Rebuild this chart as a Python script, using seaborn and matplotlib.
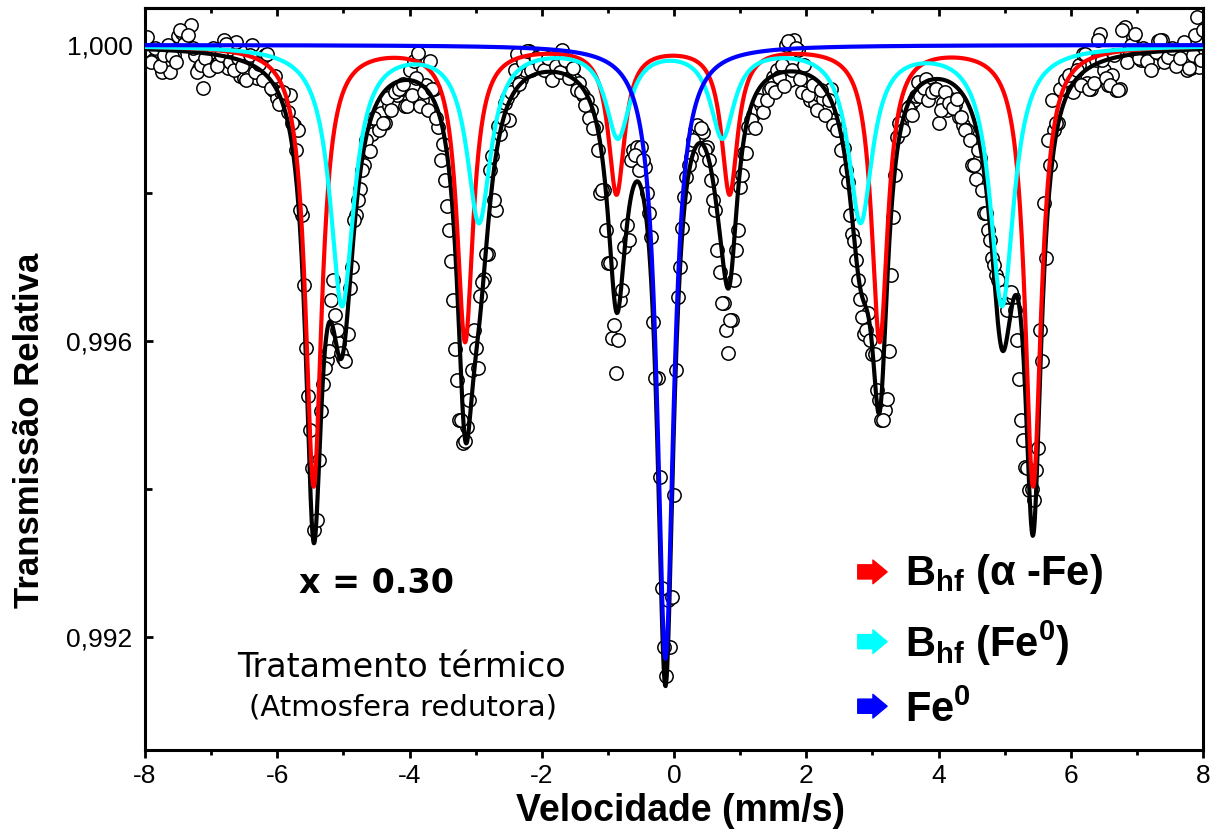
import numpy as np
import pandas as pd
import matplotlib
matplotlib.use("Agg")
import matplotlib.pyplot as plt
import seaborn as sns
from matplotlib.ticker import MultipleLocator, FuncFormatter
from matplotlib.patches import FancyArrowPatch

# measured spectrum (relative transmission), two interleaved channel sets
# set A: channels at -8, -7.9375, ... 8 mm/s
transmission_a = [
    1.00007, 0.99986, 0.99980, 0.99993, 0.99964, 0.99977, 0.99964, 0.99986, 1.00012, 1.00016,
    1.00004, 1.00027, 0.99986, 0.99969, 0.99942, 0.99980, 0.99991, 0.99972, 0.99977, 1.00007,
    0.99969, 0.99991, 1.00004, 0.99958, 0.99955,
    0.99966, 1.00000, 0.99955, 0.99980, 0.99986, 0.99950, 0.99939, 0.99928, 0.99936, 0.99931,
    0.99932, 0.99892, 0.99885, 0.99770, 0.99591, 0.99480, 0.99345, 0.99439, 0.99542, 0.99574,
    0.99655, 0.99635, 0.99597, 0.99577,
    0.99609, 0.99700, 0.99770, 0.99805, 0.99838, 0.99857, 0.99880, 0.99899, 0.99908, 0.99895,
    0.99918, 0.99922, 0.99932, 0.99941, 0.99918, 0.99966, 0.99978, 0.99989, 0.99926, 0.99946,
    0.99978, 0.99941, 0.99889, 0.99866,
    0.99782, 0.99708, 0.99589, 0.99493, 0.99462, 0.99484, 0.99561, 0.99591, 0.99661, 0.99684,
    0.99718, 0.99850, 0.99777, 0.99880, 0.99922, 0.99899, 0.99941, 0.99988, 0.99954, 0.99966,
    0.99992, 0.99977, 0.99973, 0.99986,
    0.99977, 0.99962, 0.99980, 0.99986, 0.99993, 0.99970, 0.99959, 0.99953, 0.99949, 0.99932,
    0.99926, 0.99912, 0.99889, 0.99800, 0.99804, 0.99705, 0.99604, 0.99557, 0.99655, 0.99727,
    0.99736, 0.99858, 0.99862, 0.99862,
    0.99835, 0.99773, 0.99626, 0.99550, 0.99266, 0.99147, 0.99186, 0.99392, 0.99659, 0.99753,
    0.99822, 0.99849, 0.99885, 0.99878, 0.99882, 0.99862, 0.99818, 0.99777, 0.99693, 0.99651,
    0.99584, 0.99628, 0.99723, 0.99808,
    0.99854, 0.99889, 0.99905, 0.99912, 0.99919, 0.99926, 0.99939, 0.99957, 0.99966, 0.99973,
    1.00000, 0.99953, 1.00007, 0.99993, 0.99936, 0.99953, 0.99926, 0.99922, 0.99932, 0.99927,
    0.99912, 0.99941, 0.99899, 0.99885,
    0.99861, 0.99815, 0.99745, 0.99709, 0.99657, 0.99609, 0.99638, 0.99582, 0.99534, 0.99493,
    0.99507, 0.99586, 0.99768, 0.99876, 0.99895, 0.99905, 0.99918, 0.99926, 0.99950, 0.99931,
    0.99954, 0.99946, 0.99941, 0.99895,
    0.99922, 0.99912, 0.99927, 0.99919, 0.99903, 0.99892, 0.99885, 0.99838, 0.99819, 0.99847,
    0.99773, 0.99750, 0.99712, 0.99689, 0.99673, 0.99655, 0.99659, 0.99659, 0.99601, 0.99493,
    0.99430, 0.99399, 0.99385, 0.99455,
    0.99573, 0.99712, 0.99838, 0.99885, 0.99895, 0.99941, 0.99941, 0.99959, 0.99953, 0.99973,
    0.99988, 0.99949, 0.99941, 0.99980, 1.00015, 0.99966, 0.99946, 0.99959, 0.99939, 0.99941,
    1.00024, 0.99993, 1.00011, 0.99986,
    0.99980, 0.99980, 0.99993, 0.99973, 1.00005, 1.00007, 0.99986, 0.99984, 0.99978, 0.99982,
    0.99993, 0.99966, 0.99969, 1.00014, 0.99970, 1.00020,
]
# set B: channels half a step further, -7.96875 ... 7.96875 mm/s
transmission_b = [
    1.00011, 0.99977, 0.99996, 0.99972, 0.99986, 1.00000, 0.99985, 0.99977, 1.00020, 1.00001,
    1.00014, 0.99996, 0.99964, 0.99973, 0.99982, 0.99966, 0.99996, 0.99972, 0.99986, 1.00001,
    0.99977, 0.99966, 0.99982, 0.99972, 0.99953,
    0.99986, 0.99964, 0.99974, 0.99953, 0.99988, 0.99942, 0.99958, 0.99920, 0.99936, 0.99909,
    0.99895, 0.99858, 0.99777, 0.99676, 0.99526, 0.99428, 0.99358, 0.99505, 0.99563, 0.99586,
    0.99682, 0.99615, 0.99584, 0.99573,
    0.99672, 0.99764, 0.99791, 0.99831, 0.99872, 0.99857, 0.99901, 0.99885, 0.99895, 0.99928,
    0.99912, 0.99936, 0.99941, 0.99947, 0.99918, 0.99932, 0.99955, 0.99918, 0.99936, 0.99912,
    0.99941, 0.99901, 0.99845, 0.99818,
    0.99750, 0.99655, 0.99547, 0.99493, 0.99465, 0.99520, 0.99615, 0.99563, 0.99680, 0.99718,
    0.99831, 0.99791, 0.99891, 0.99901, 0.99928, 0.99936, 0.99966, 0.99947, 0.99977, 0.99992,
    0.99966, 0.99982, 0.99973, 0.99966,
    0.99982, 0.99953, 0.99972, 0.99964, 0.99980, 0.99955, 0.99969, 0.99939, 0.99936, 0.99919,
    0.99901, 0.99888, 0.99858, 0.99804, 0.99750, 0.99705, 0.99622, 0.99601, 0.99669, 0.99757,
    0.99845, 0.99851, 0.99831, 0.99845,
    0.99800, 0.99741, 0.99550, 0.99416, 0.99186, 0.99250, 0.99254, 0.99561, 0.99700, 0.99795,
    0.99838, 0.99872, 0.99892, 0.99888, 0.99858, 0.99845, 0.99791, 0.99723, 0.99651, 0.99615,
    0.99628, 0.99682, 0.99750, 0.99824,
    0.99854, 0.99899, 0.99888, 0.99926, 0.99909, 0.99926, 0.99942, 0.99936, 0.99957, 0.99945,
    1.00005, 0.99966, 0.99996, 0.99954, 0.99973, 0.99932, 0.99946, 0.99912, 0.99939, 0.99905,
    0.99926, 0.99892, 0.99885, 0.99858,
    0.99831, 0.99770, 0.99735, 0.99682, 0.99632, 0.99615, 0.99601, 0.99582, 0.99520, 0.99493,
    0.99522, 0.99689, 0.99824, 0.99895, 0.99885, 0.99915, 0.99905, 0.99931, 0.99931, 0.99942,
    0.99926, 0.99936, 0.99941, 0.99912,
    0.99936, 0.99922, 0.99915, 0.99927, 0.99903, 0.99885, 0.99872, 0.99838, 0.99858, 0.99804,
    0.99773, 0.99736, 0.99703, 0.99682, 0.99666, 0.99642, 0.99666, 0.99642, 0.99549, 0.99466,
    0.99428, 0.99400, 0.99426, 0.99615,
    0.99786, 0.99872, 0.99926, 0.99895, 0.99941, 0.99953, 0.99959, 0.99936, 0.99966, 0.99946,
    0.99988, 0.99941, 0.99949, 1.00007, 0.99980, 0.99955, 0.99946, 0.99986, 0.99939, 1.00020,
    0.99977, 1.00000, 1.00015, 0.99982,
    0.99996, 0.99978, 0.99966, 0.99991, 1.00007, 0.99977, 0.99984, 0.99996, 0.99972, 0.99982,
    1.00004, 0.99969, 0.99986, 1.00038, 0.99980,
]
velocity_a = np.linspace(-8, 8, len(transmission_a))
velocity_b = np.linspace(-7.96875, 7.96875, len(transmission_b))
spectrum = pd.DataFrame({
    "v": np.concatenate([velocity_a, velocity_b]),
    "t": transmission_a + transmission_b,
})

# fitted sub-spectra: line positions (mm/s), depths and half widths
alpha_fe_pos = [-5.45, -3.16, -0.87, 0.84, 3.11, 5.43]
alpha_fe_depth = [0.00595, 0.00398, 0.00198, 0.00198, 0.00398, 0.00595]
alpha_fe_hwhm = 0.15

fe0_hf_pos = [-5.02, -2.95, -0.85, 0.73, 2.82, 4.96]
fe0_hf_depth = [0.00350, 0.00235, 0.00120, 0.00120, 0.00235, 0.00350]
fe0_hf_hwhm = 0.22

fe0_pos = [-0.13]
fe0_depth = [0.00830]
fe0_hwhm = 0.15


def lorentz_absorption(v, centers, depths, hwhm):
    d = np.zeros_like(v)
    for c, a in zip(centers, depths):
        d += a / (1 + ((v - c) / hwhm) ** 2)
    return d


v_fit = np.linspace(-8, 8, 2001)
d_red = lorentz_absorption(v_fit, alpha_fe_pos, alpha_fe_depth, alpha_fe_hwhm)
d_cyan = lorentz_absorption(v_fit, fe0_hf_pos, fe0_hf_depth, fe0_hf_hwhm)
d_blue = lorentz_absorption(v_fit, fe0_pos, fe0_depth, fe0_hwhm)
fit = pd.DataFrame({
    "v": v_fit,
    "red": 1 - d_red,
    "cyan": 1 - d_cyan,
    "blue": 1 - d_blue,
    "total": 1 - (d_red + d_cyan + d_blue),
})

sns.set_theme(style="ticks")
plt.rcParams["font.family"] = ["Liberation Sans", "DejaVu Sans"]
plt.rcParams["mathtext.fontset"] = "custom"
plt.rcParams["mathtext.rm"] = "Liberation Sans"
plt.rcParams["mathtext.bf"] = "Liberation Sans:bold"
plt.rcParams["mathtext.it"] = "Liberation Sans:italic"
plt.rcParams["mathtext.default"] = "regular"
plt.rcParams["axes.unicode_minus"] = False
for key in ["text.color", "axes.labelcolor", "xtick.color", "ytick.color", "axes.edgecolor"]:
    plt.rcParams[key] = "black"

fig = plt.figure(figsize=(12.25, 8.36), dpi=100)
ax = fig.add_axes([0.1184, 0.1029, 0.8637, 0.8876])

sns.scatterplot(data=spectrum, x="v", y="t", ax=ax, marker="o", s=92,
                color="white", edgecolor="black", linewidth=1.1, zorder=2)
sns.lineplot(data=fit, x="v", y="total", ax=ax, color="black", lw=3.0, estimator=None, zorder=3)
sns.lineplot(data=fit, x="v", y="red", ax=ax, color="#ff0000", lw=3.0, estimator=None, zorder=4)
sns.lineplot(data=fit, x="v", y="cyan", ax=ax, color="#00ffff", lw=3.0, estimator=None, zorder=5)
sns.lineplot(data=fit, x="v", y="blue", ax=ax, color="#0000ff", lw=3.0, estimator=None, zorder=6)

ax.set_xlim(-8, 8)
ax.set_ylim(0.99047, 1.0005)
ax.xaxis.set_major_locator(MultipleLocator(2))
ax.xaxis.set_minor_locator(MultipleLocator(1))
ax.yaxis.set_major_locator(MultipleLocator(0.004))
ax.yaxis.set_minor_locator(MultipleLocator(0.002))
ax.yaxis.set_major_formatter(FuncFormatter(lambda y, _: f"{y:.3f}".replace(".", ",")))

for s in ax.spines.values():
    s.set_linewidth(2.2)
    s.set_color("black")

ax.tick_params(axis="x", which="major", direction="out", length=6, width=2, pad=4,
               labelsize=19)
ax.tick_params(axis="x", which="minor", direction="out", length=3.8, width=2)
ax.tick_params(axis="y", which="major", direction="in", length=5.5, width=2, pad=9,
               labelsize=19, right=False)
ax.tick_params(axis="y", which="minor", direction="in", length=5, width=2, right=False)

top = ax.secondary_xaxis("top")
top.xaxis.set_major_locator(MultipleLocator(2))
top.xaxis.set_minor_locator(MultipleLocator(1))
top.tick_params(which="major", direction="in", length=5.5, width=2, labeltop=False)
top.tick_params(which="minor", direction="in", length=3.5, width=2)
top.spines["top"].set_linewidth(2.2)

ax.set_xlabel("Velocidade (mm/s)", fontsize=27, fontweight="bold")
ax.set_ylabel("Transmissão Relativa", fontsize=25, fontweight="bold")
ax.xaxis.set_label_coords(0.506, -0.058)
ax.yaxis.set_label_coords(-0.094, 0.431)

ax.text(-4.5, 0.99272, "x = 0.30", family="DejaVu Sans", fontweight="bold",
        fontsize=24, ha="center", va="center")
ax.text(-4.12, 0.99158, "Tratamento térmico", family="DejaVu Sans",
        fontsize=24, ha="center", va="center")
ax.text(-4.1, 0.99104, "(Atmosfera redutora)", family="DejaVu Sans",
        fontsize=21, ha="center", va="center")

legend_colors = ["#ff0000", "#00ffff", "#0000ff"]
legend_labels = [r"$\mathbf{B_{hf}}$ ($\alpha$ -Fe)", r"$\mathbf{B_{hf}}$ (Fe$^{\mathbf{0}}$)",
                 r"Fe$^{\mathbf{0}}$"]
arrow_y = [0.240, 0.146, 0.059]
text_y = [0.2224, 0.1253, 0.0377]
for col, lab, ay, ty in zip(legend_colors, legend_labels, arrow_y, text_y):
    arr = FancyArrowPatch((0.671, ay), (0.704, ay), transform=ax.transAxes,
                          arrowstyle="simple,head_length=0.6,head_width=1.0,tail_width=0.6",
                          mutation_scale=17, color=col, zorder=7)
    ax.add_patch(arr)
    ax.text(0.718, ty, lab, transform=ax.transAxes, fontsize=30, fontweight="bold",
            ha="left", va="baseline")

fig.savefig("out.png", dpi=100)
